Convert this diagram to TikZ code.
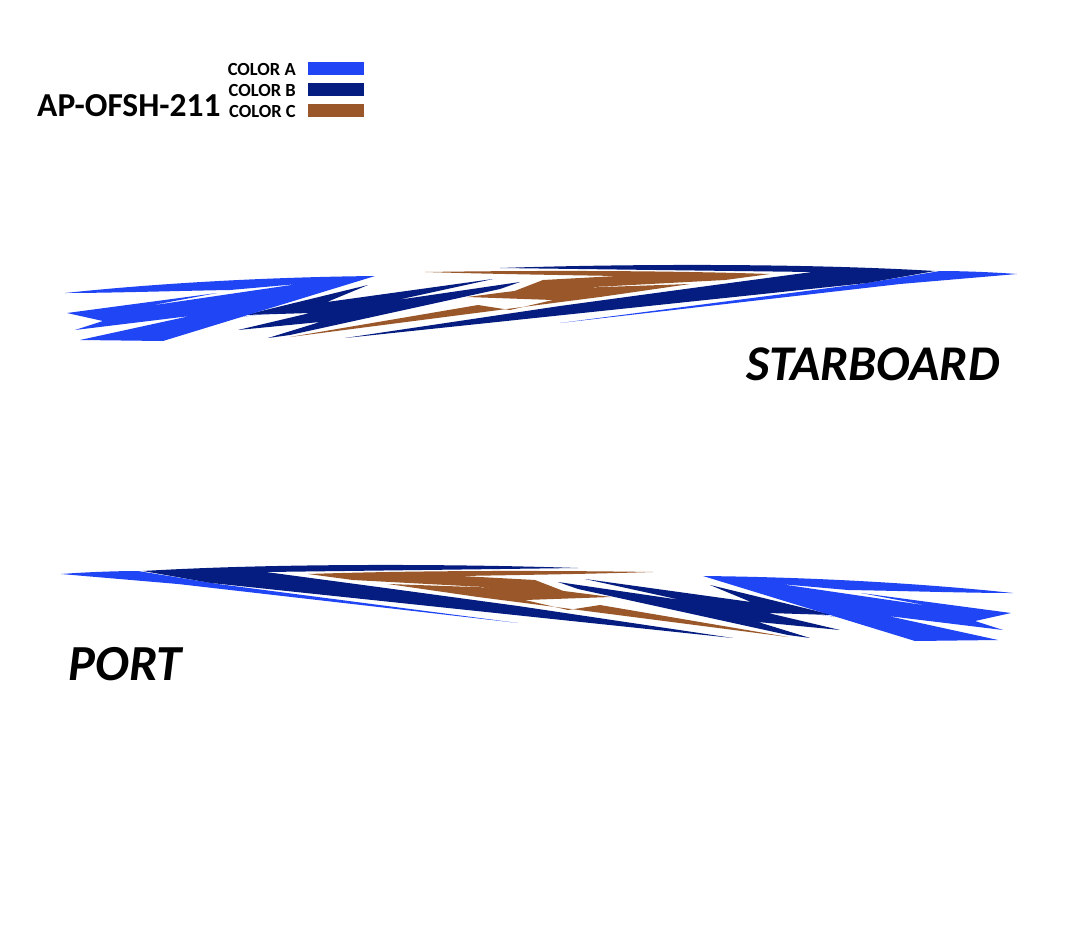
\documentclass[tikz,border=0pt]{standalone}
\usepackage{fontspec}
\setmainfont{Carlito}
\definecolor{colA}{RGB}{31,69,245}
\definecolor{colB}{RGB}{5,28,128}
\definecolor{colC}{RGB}{154,88,42}
\newcommand\decalgraphic{%
  % blue A right streak
  \fill[colA] (560,323) -- (900,284) -- (1017,274) .. controls (990,272) and (960,271) .. (940,271) -- (860,284) -- cycle;
  % dark B main crescent
  \fill[colB] (345,338) -- (867,283) -- (935,271) .. controls (800,263) and (620,264) .. (500,268) -- (812,272) -- (700,287) -- (560,306) -- cycle;
  % brown C
  \fill[colC] (425,272) .. controls (560,270) and (680,271) .. (770,274) -- (725,280) -- (575,288) -- (690,284) -- (600,297) -- (290,337) -- (478,305) -- (510,310) -- (553,300) -- (467,297) -- (530,289) -- (512,292) -- (543,280) -- (617,276) .. controls (560,275) and (490,274) .. (425,272) -- cycle;
  % dark B left spikes
  \fill[colB] (245,315) -- (368,285) -- (327,302) -- (493,279) -- (397,300) -- (520,282) -- (500,289) -- (290,335) -- (268,338) -- (320,322) -- (238,330) -- (310,313) -- cycle;
  % blue A left shape
  \fill[colA] (65,293) .. controls (170,282) and (280,277) .. (375,276) -- (163,341) -- (80,340) -- (190,316) -- (75,330) -- (103,321) -- (67,313) -- (217,293) -- (148,306) -- (298,284) -- (230,290) .. controls (170,291) and (110,293) .. (65,293) -- cycle;
  \fill[colA] (150,328) -- (233,318) -- (280,312) -- (200,322) -- cycle;
}
\begin{document}
\begin{tikzpicture}[x=1pt,y=-1pt]
\useasboundingbox (0,0) rectangle (1065,942);
\fill[white] (0,0) rectangle (1065,942);
\tikzset{legtext/.style={anchor=east,font=\bfseries\fontsize{18.5}{20}\selectfont,inner sep=0pt}}
\node[legtext] (la) at (296,69) {COLOR A};
\node[legtext] (lb) at (296,90) {COLOR B};
\node[legtext] (lc) at (296,111) {COLOR C};
\fill[colA] (308,62) rectangle (364,75);
\fill[colB] (308,83) rectangle (364,96);
\fill[colC] (308,104) rectangle (364,117);
\node[anchor=west,inner sep=0pt,font=\bfseries\fontsize{33.5}{36}\selectfont] (title) at (37,106) {AP-OFSH-211};
\decalgraphic
\begin{scope}[shift={(1078,300)},xscale=-1]
\decalgraphic
\end{scope}
\node[inner sep=0pt,font=\bfseries\itshape\fontsize{50}{54}\selectfont] (sb) at (873,364) {STARBOARD};
\node[inner sep=0pt,font=\bfseries\itshape\fontsize{50.5}{54}\selectfont] (pt) at (125,664) {PORT};
\end{tikzpicture}
\end{document}
